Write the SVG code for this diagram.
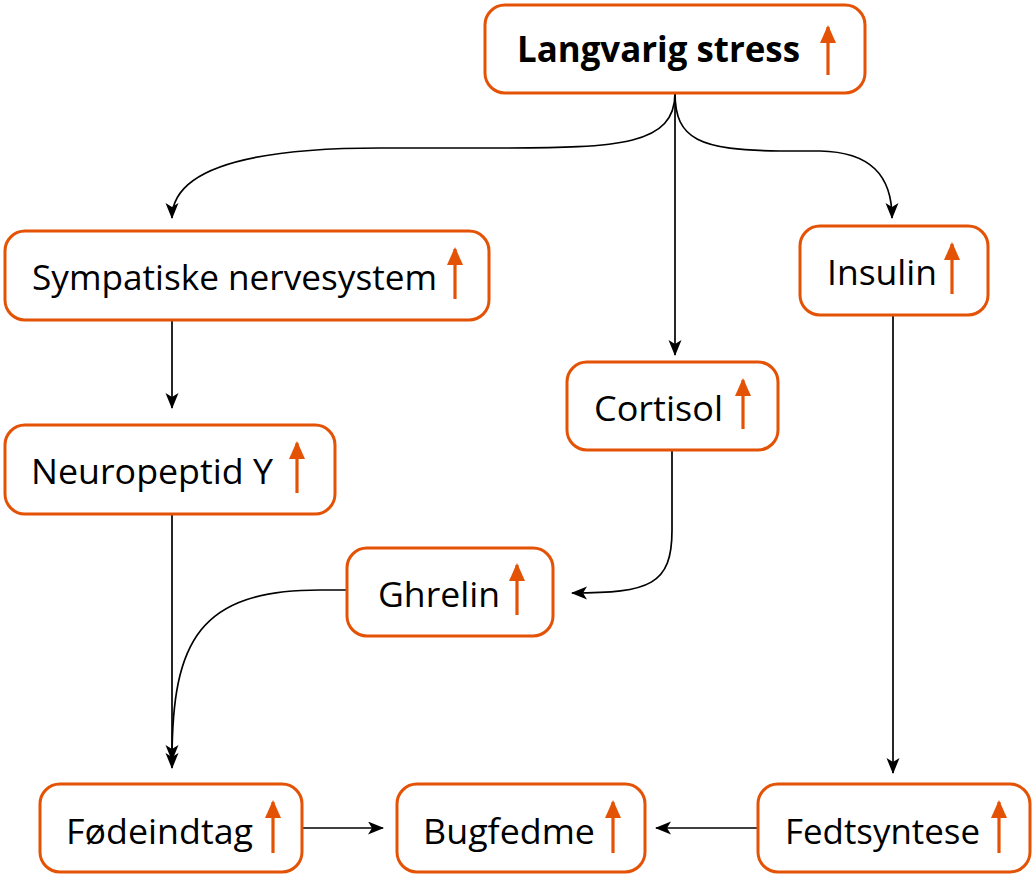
<svg xmlns="http://www.w3.org/2000/svg" width="1035" height="877" viewBox="0 0 1035 877">
<style>
.box{fill:#fff;stroke:#E35205;stroke-width:3}
.t{font-family:"Open Sans","Noto Sans",sans-serif;font-size:35px;fill:#000}
.b{font-weight:bold}
.up{stroke:#E35205;stroke-width:3.2;fill:none;marker-end:url(#oh)}
.c{stroke:#000;stroke-width:1.7;fill:none;marker-end:url(#bh)}
</style>
<defs>
<marker id="bh" markerUnits="userSpaceOnUse" markerWidth="18" markerHeight="14" refX="15" refY="6.5" orient="auto">
<path d="M0,0 L16,6.5 L0,13 L4,6.5 z" fill="#000"/>
</marker>
<marker id="oh" markerUnits="userSpaceOnUse" markerWidth="20" markerHeight="18" refX="16" refY="8" orient="auto">
<path d="M0,0 L18,8 L0,16 z" fill="#E35205"/>
</marker>
</defs>
<g id="connectors">
<path class="c" d="M675,93 C675,145 620,148 500,148 L380,148 C230,148 172,175 172,218"/>
<path class="c" d="M675,93 C675,140 700,150 780,151 L820,151 C870,152 892,175 892,218"/>
<path class="c" d="M675,93 L675,355"/>
<path class="c" d="M172,320 L172,408"/>
<path class="c" d="M172,514 L172,768"/>
<path class="c" d="M347,590 L320,590 C200,590 172,640 172,760"/>
<path class="c" d="M672,450 L672,530 C672,585 650,593 572,593"/>
<path class="c" d="M893,315 L893,773"/>
<path class="c" d="M302,828 L383,828"/>
<path class="c" d="M758,828 L656,828"/>
</g>
<g id="stress"><rect class="box" x="485" y="5" width="380" height="88" rx="20"/><text class="t b" x="517" y="62" textLength="283" lengthAdjust="spacingAndGlyphs">Langvarig stress</text><line class="up" x1="828" y1="75" x2="828" y2="27"/></g>
<g id="sympatiske"><rect class="box" x="5" y="231" width="484" height="89" rx="20"/><text class="t" x="32" y="290" textLength="405" lengthAdjust="spacingAndGlyphs">Sympatiske nervesystem</text><line class="up" x1="455" y1="299" x2="455" y2="249"/></g>
<g id="insulin"><rect class="box" x="800" y="226" width="188" height="89" rx="20"/><text class="t" x="827" y="285" textLength="110" lengthAdjust="spacingAndGlyphs">Insulin</text><line class="up" x1="952" y1="294" x2="952" y2="244"/></g>
<g id="cortisol"><rect class="box" x="567" y="362" width="211" height="88" rx="20"/><text class="t" x="594" y="421" textLength="129" lengthAdjust="spacingAndGlyphs">Cortisol</text><line class="up" x1="743" y1="429" x2="743" y2="380"/></g>
<g id="neuropeptid"><rect class="box" x="5" y="425" width="330" height="89" rx="20"/><text class="t" x="31" y="484" textLength="242" lengthAdjust="spacingAndGlyphs">Neuropeptid Y</text><line class="up" x1="297" y1="493" x2="297" y2="443"/></g>
<g id="ghrelin"><rect class="box" x="347" y="548" width="206" height="88" rx="20"/><text class="t" x="378" y="607" textLength="122" lengthAdjust="spacingAndGlyphs">Ghrelin</text><line class="up" x1="517" y1="615" x2="517" y2="565"/></g>
<g id="fodeindtag"><rect class="box" x="40" y="784" width="262" height="88" rx="20"/><text class="t" x="66" y="844" textLength="187" lengthAdjust="spacingAndGlyphs">Fødeindtag</text><line class="up" x1="273" y1="853" x2="273" y2="802"/></g>
<g id="bugfedme"><rect class="box" x="397" y="784" width="248" height="88" rx="20"/><text class="t" x="423" y="844" textLength="172" lengthAdjust="spacingAndGlyphs">Bugfedme</text><line class="up" x1="613" y1="853" x2="613" y2="802"/></g>
<g id="fedtsyntese"><rect class="box" x="758" y="784" width="272" height="88" rx="20"/><text class="t" x="785" y="844" textLength="195" lengthAdjust="spacingAndGlyphs">Fedtsyntese</text><line class="up" x1="999" y1="853" x2="999" y2="802"/></g>
</svg>
